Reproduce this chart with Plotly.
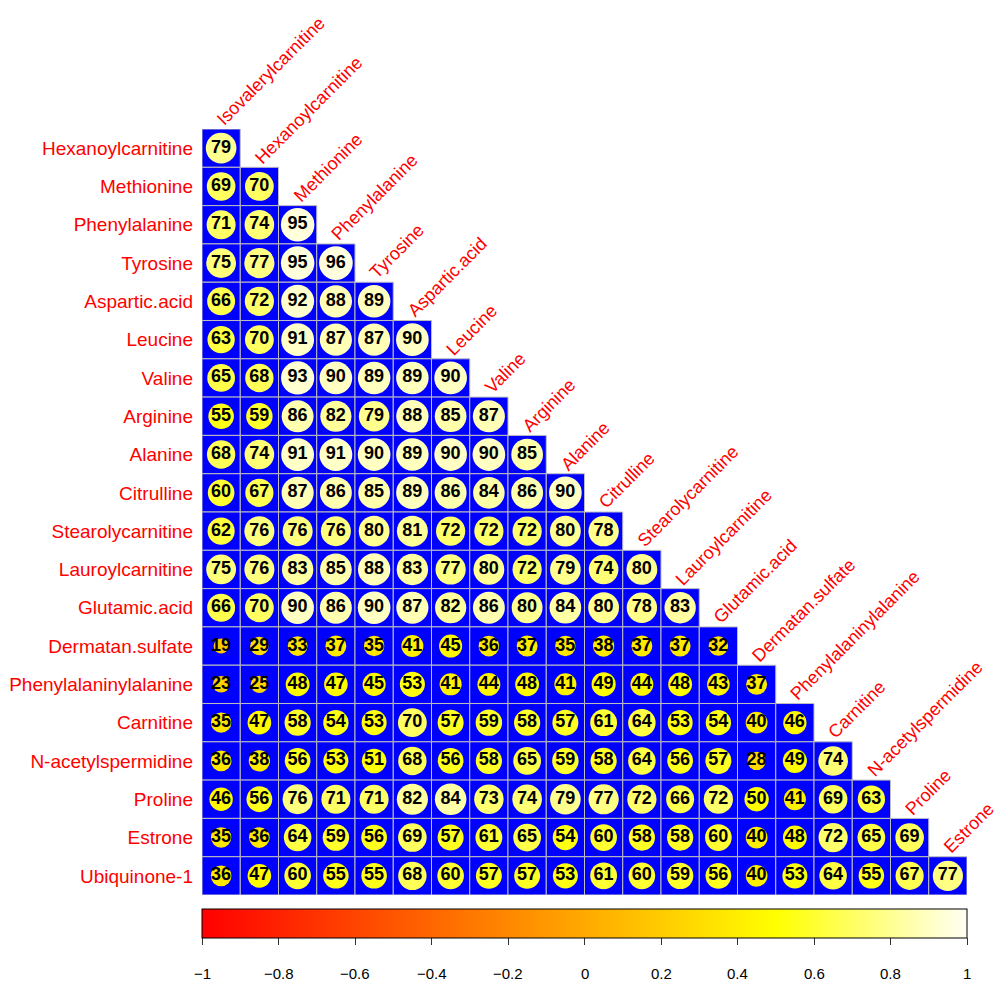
import math
import plotly.graph_objects as go

# Variables on the columns (upper side of the triangle) and rows (left side)
col_labels = [
    "Isovalerylcarnitine", "Hexanoylcarnitine", "Methionine", "Phenylalanine",
    "Tyrosine", "Aspartic.acid", "Leucine", "Valine", "Arginine", "Alanine",
    "Citrulline", "Stearolycarnitine", "Lauroylcarnitine", "Glutamic.acid",
    "Dermatan.sulfate", "Phenylalaninylalanine", "Carnitine",
    "N-acetylspermidine", "Proline", "Estrone",
]
row_labels = [
    "Hexanoylcarnitine", "Methionine", "Phenylalanine", "Tyrosine",
    "Aspartic.acid", "Leucine", "Valine", "Arginine", "Alanine", "Citrulline",
    "Stearolycarnitine", "Lauroylcarnitine", "Glutamic.acid",
    "Dermatan.sulfate", "Phenylalaninylalanine", "Carnitine",
    "N-acetylspermidine", "Proline", "Estrone", "Ubiquinone-1",
]

# Lower-triangle correlation coefficients (x100), one list per row
coef_pct = [
    [79],
    [69, 70],
    [71, 74, 95],
    [75, 77, 95, 96],
    [66, 72, 92, 88, 89],
    [63, 70, 91, 87, 87, 90],
    [65, 68, 93, 90, 89, 89, 90],
    [55, 59, 86, 82, 79, 88, 85, 87],
    [68, 74, 91, 91, 90, 89, 90, 90, 85],
    [60, 67, 87, 86, 85, 89, 86, 84, 86, 90],
    [62, 76, 76, 76, 80, 81, 72, 72, 72, 80, 78],
    [75, 76, 83, 85, 88, 83, 77, 80, 72, 79, 74, 80],
    [66, 70, 90, 86, 90, 87, 82, 86, 80, 84, 80, 78, 83],
    [19, 29, 33, 37, 35, 41, 45, 36, 37, 35, 38, 37, 37, 32],
    [23, 25, 48, 47, 45, 53, 41, 44, 48, 41, 49, 44, 48, 43, 37],
    [35, 47, 58, 54, 53, 70, 57, 59, 58, 57, 61, 64, 53, 54, 40, 46],
    [36, 38, 56, 53, 51, 68, 56, 58, 65, 59, 58, 64, 56, 57, 28, 49, 74],
    [46, 56, 76, 71, 71, 82, 84, 73, 74, 79, 77, 72, 66, 72, 50, 41, 69, 63],
    [35, 36, 64, 59, 56, 69, 57, 61, 65, 54, 60, 58, 58, 60, 40, 48, 72, 65, 69],
    [36, 47, 60, 55, 55, 68, 60, 57, 57, 53, 61, 60, 59, 56, 40, 53, 64, 55, 67, 77],
]

# Colour legend ticks
bar_ticks = [-1, -0.8, -0.6, -0.4, -0.2, 0, 0.2, 0.4, 0.6, 0.8, 1]
bar_tick_text = ["\u22121", "\u22120.8", "\u22120.6", "\u22120.4", "\u22120.2",
                 "0", "0.2", "0.4", "0.6", "0.8", "1"]

# heat.colors-like palette: red -> yellow -> near white
heat_scale = [[0.0, "#FF0000"], [0.75, "#FFFF00"], [1.0, "#FFFFF4"]]

# Page geometry (pixels)
W, H = 999, 982
ML, MR, MT, MB = 202, 32, 129, 87
plot_w = W - ML - MR
plot_h = H - MT - MB
n_cols = len(col_labels)
n_rows = len(row_labels)
cell_px = min(plot_w / n_cols, plot_h / n_rows)

xs, ys, rs, txt = [], [], [], []
for i, row in enumerate(coef_pct):
    for j, v in enumerate(row):
        xs.append(j)
        ys.append(i)
        rs.append(v / 100.0)
        txt.append(str(v))

# circle area proportional to |r| (radius 0.45*sqrt|r| of a cell)
diam = [0.9 * math.sqrt(abs(r)) * cell_px for r in rs]

fig = go.Figure()

# blue cell backgrounds with grey grid
fig.add_trace(go.Scatter(
    x=xs, y=ys, mode="markers",
    marker=dict(symbol="square", size=cell_px, color="#0000FF", opacity=1,
                line=dict(color="#BEBEBE", width=1)),
    hoverinfo="skip", showlegend=False,
))

# coloured circles
fig.add_trace(go.Scatter(
    x=xs, y=ys, mode="markers",
    marker=dict(
        symbol="circle", size=diam, color=rs, cmin=-1, cmax=1, opacity=1,
        colorscale=heat_scale, line=dict(width=0),
        showscale=True,
        colorbar=dict(
            orientation="h", x=0, xanchor="left", len=1, lenmode="fraction",
            y=-(909 - (H - MB)) / plot_h, yanchor="top", thickness=29,
            xpad=0, ypad=0, outlinecolor="black", outlinewidth=1,
            tickmode="array", tickvals=bar_ticks, ticks="outside",
            ticklen=7, tickwidth=1, tickcolor="#333333",
            showticklabels=False,
        ),
    ),
    hoverinfo="skip", showlegend=False,
))

# coefficient labels
fig.add_trace(go.Scatter(
    x=xs, y=ys, mode="text", text=txt,
    textfont=dict(family="Liberation Sans, Arial", size=18, color="black",
                  weight="bold"),
    textposition="middle center",
    hoverinfo="skip", showlegend=False,
))

annotations = []
# diagonal column labels above each column's top cell
for j, name in enumerate(col_labels):
    annotations.append(dict(
        x=j, y=j - 0.5, xref="x", yref="y", text=name, showarrow=False,
        textangle=-45, xanchor="left", yanchor="bottom",
        xshift=-11, yshift=-3,
        font=dict(family="Liberation Sans, Arial", size=18, color="red"),
    ))
# colour legend labels
for v, t in zip(bar_ticks, bar_tick_text):
    annotations.append(dict(
        x=(v + 1) / 2, y=-(973 - (H - MB)) / plot_h, xref="paper", yref="paper",
        text=t, showarrow=False, xanchor="center", yanchor="middle",
        font=dict(family="Liberation Sans, Arial", size=15, color="black"),
    ))

fig.update_layout(
    width=W, height=H,
    margin=dict(l=ML, r=MR, t=MT, b=MB, pad=0, autoexpand=False),
    paper_bgcolor="white", plot_bgcolor="white",
    annotations=annotations,
    xaxis=dict(range=[-0.5, n_cols - 0.5], showgrid=False, zeroline=False,
               showticklabels=False, ticks="", showline=False,
               automargin=False, fixedrange=True),
    yaxis=dict(range=[n_rows - 0.5, -0.5], showgrid=False, zeroline=False,
               tickmode="array", tickvals=list(range(n_rows)),
               ticktext=row_labels, ticks="", showline=False,
               ticklabelstandoff=8, automargin=False,
               tickfont=dict(family="Liberation Sans, Arial", size=19,
                             color="red"),
               fixedrange=True),
)

fig.write_html("out.html")
